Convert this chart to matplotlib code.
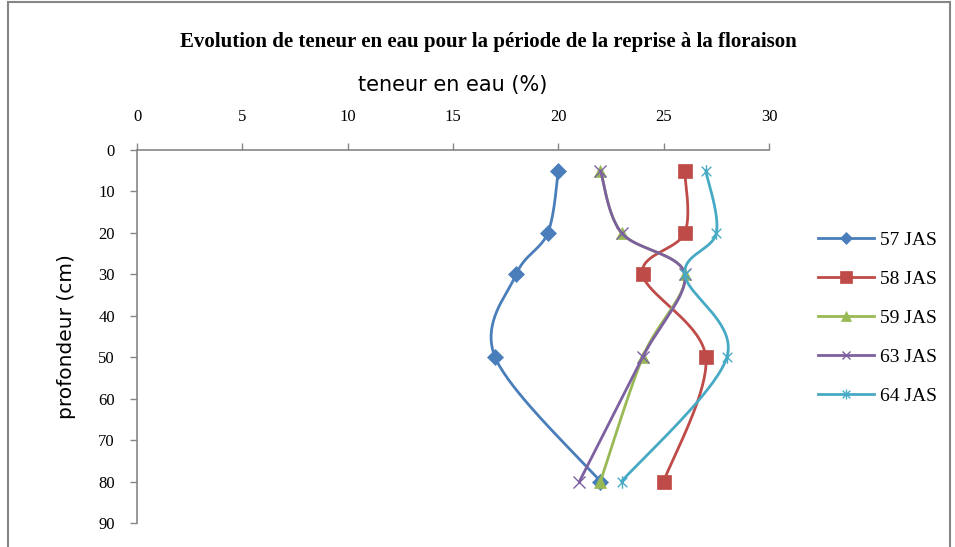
import numpy as np
import matplotlib
matplotlib.use("Agg")
import matplotlib.pyplot as plt
from matplotlib.path import Path

depths = [5, 20, 30, 50, 80]
labels = ["57 JAS", "58 JAS", "59 JAS", "63 JAS", "64 JAS"]
jas57 = [20, 19.5, 18, 17, 22]
jas58 = [26, 26, 24, 27, 25]
jas59 = [22, 23, 26, 24, 22]
jas63 = [22, 23, 26, 24, 21]
jas64 = [27, 27.5, 26, 28, 23]
x_ticks = [0, 5, 10, 15, 20, 25, 30]
y_ticks = [0, 10, 20, 30, 40, 50, 60, 70, 80, 90]

colors = ["#4A7EBB", "#BE4B48", "#98B954", "#7D60A0", "#46AAC5"]

# asterisk marker: X plus vertical bar
star = Path([(-1, -1), (1, 1), (-1, 1), (1, -1), (0, -1.3), (0, 1.3)],
            [Path.MOVETO, Path.LINETO, Path.MOVETO, Path.LINETO, Path.MOVETO, Path.LINETO])
markers = ["D", "s", "^", "x", star]
msizes = [8, 10, 9, 8, 9]


def smooth(xs, ys, n=40):
    """Parametric Catmull-Rom curve through the points."""
    p = np.column_stack([xs, ys]).astype(float)
    p = np.vstack([p[0], p, p[-1]])
    out = []
    t = np.linspace(0, 1, n)[:, None]
    for i in range(1, len(p) - 2):
        p0, p1, p2, p3 = p[i - 1], p[i], p[i + 1], p[i + 2]
        c1 = p1 + (p2 - p0) / 6
        c2 = p2 - (p3 - p1) / 6
        seg = ((1 - t) ** 3) * p1 + 3 * ((1 - t) ** 2) * t * c1 + 3 * (1 - t) * t ** 2 * c2 + t ** 3 * p2
        out.append(seg if i == 1 else seg[1:])
    out = np.vstack(out)
    return out[:, 0], out[:, 1]


fig = plt.figure(figsize=(9.55, 5.47), dpi=100)
ax = fig.add_axes([137 / 955, 1 - 523 / 547, (769 - 137) / 955, (523 - 150) / 547])

series = [jas57, jas58, jas59, jas63, jas64]
for vals, lab, c, m, ms in zip(series, labels, colors, markers, msizes):
    sx, sy = smooth(vals, depths)
    ax.plot(sx, sy, color=c, lw=2.0, solid_capstyle="round", clip_on=False)
    lined = m == "x" or m is star
    ax.plot(vals, depths, linestyle="none", marker=m, markersize=ms, color=c,
            markeredgewidth=1.0 if lined else 0.5, clip_on=False)
    ax.plot([], [], color=c, lw=2.0, marker=m, markersize=ms * 0.8, label=lab,
            markeredgewidth=1.0 if lined else 0.5)

ax.set_xlim(0, 30)
ax.set_ylim(90, 0)
ax.set_xticks(x_ticks)
ax.set_yticks(y_ticks)
ax.xaxis.tick_top()
ax.xaxis.set_label_position("top")
for s in ["right", "bottom"]:
    ax.spines[s].set_visible(False)
for s in ["left", "top"]:
    ax.spines[s].set_color("#868686")
    ax.spines[s].set_linewidth(1.2)
ax.tick_params(axis="both", direction="out", length=5, color="#868686", width=1.0,
               labelsize=12)
ax.tick_params(axis="x", pad=13)
ax.tick_params(axis="y", pad=11)
for lbl in ax.get_xticklabels() + ax.get_yticklabels():
    lbl.set_fontfamily("Liberation Serif")
ax.set_xlabel("teneur en eau (%)", fontsize=15, family="DejaVu Sans", labelpad=13)
ax.set_ylabel("profondeur (cm)", fontsize=14.5, family="DejaVu Sans", labelpad=16)

fig.text(488 / 955, 1 - 42 / 547, "Evolution de teneur en eau pour la période de la reprise à la floraison",
         ha="center", va="center", fontsize=15, family="Liberation Serif", weight="bold")

fig.legend(loc="upper left", bbox_to_anchor=(800 / 955, 1 - 214 / 547), frameon=False,
           prop={"family": "Liberation Serif", "size": 14}, labelspacing=1.1,
           handlelength=2.9, handletextpad=0.3)

# outer frame
fig.patches.append(plt.Rectangle((8 / 955, -0.02), (950 - 8) / 955, 1.0 - 2 / 547 + 0.02,
                                 transform=fig.transFigure, fill=False, edgecolor="#868686",
                                 linewidth=1.5))

fig.savefig("out.png", dpi=100)
